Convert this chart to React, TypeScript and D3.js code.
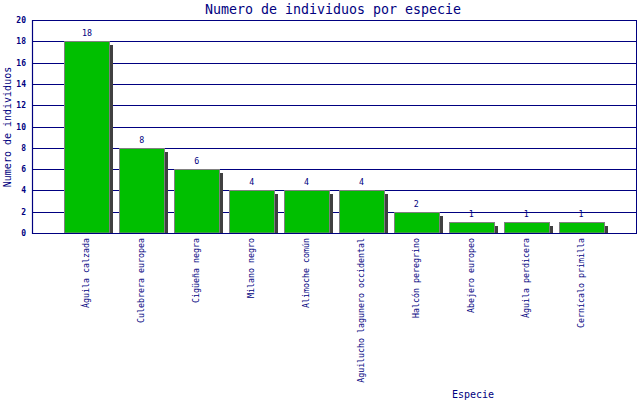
import React from "react";
import * as d3 from "d3";

const categories = [
  "Águila calzada",
  "Culebrera europea",
  "Cigüeña negra",
  "Milano negro",
  "Alimoche común",
  "Aguilucho lagunero occidental",
  "Halcón peregrino",
  "Abejero europeo",
  "Águila perdicera",
  "Cernícalo primilla",
];
const values = [18, 8, 6, 4, 4, 4, 2, 1, 1, 1];
const yTicks = [0, 2, 4, 6, 8, 10, 12, 14, 16, 18, 20];

const W = 640;
const H = 400;
const left = 32;
const right = 636;
const top = 20;
const bottom = 233;
const NAVY = "#000080";
const MONO = "'DejaVu Sans Mono', monospace";

export default function App() {
  const x = d3.scalePoint<string>().domain(categories).range([left, right]).padding(1);
  const step = x.step();
  const bw = step * 0.82;
  const y = d3.scaleLinear().domain([0, 20]).range([bottom, top]);

  return (
    <svg width={W} height={H} style={{ position: "absolute", left: 0, top: 0, background: "#fff" }}>
      <rect x={0} y={0} width={W} height={H} fill="#fff" />
      {yTicks.slice(1).map((t) => (
        <line key={t} x1={left} x2={right} y1={Math.round(y(t)) + 0.5} y2={Math.round(y(t)) + 0.5} stroke={NAVY} strokeWidth={1} />
      ))}
      {categories.map((c, i) => {
        const cx = x(c)!;
        const x0 = Math.round(cx - bw / 2);
        const yt = Math.round(y(values[i]));
        return (
          <g key={c}>
            <rect x={x0 + 4} y={yt + 4} width={Math.round(bw)} height={bottom - yt - 4} fill="#404040" />
            <rect x={x0 + 0.5} y={yt + 0.5} width={Math.round(bw)} height={bottom - yt - 0.5} fill="#00BF00" stroke="#808080" strokeWidth={1} />
            <text x={cx} y={yt - 5} textAnchor="middle" fontFamily={MONO} fontSize={8.3} fill={NAVY}>
              {values[i]}
            </text>
            <text
              transform={`translate(${cx + 2.5},${bottom + 5}) rotate(-90)`}
              textAnchor="end"
              fontFamily={MONO}
              fontSize={8.3}
              fill={NAVY}
            >
              {c}
            </text>
          </g>
        );
      })}
      <line x1={left + 0.5} x2={left + 0.5} y1={top} y2={bottom + 1} stroke={NAVY} strokeWidth={1.2} />
      <line x1={left} x2={right + 1} y1={bottom + 0.5} y2={bottom + 0.5} stroke={NAVY} strokeWidth={1.2} />
      <line x1={right + 0.5} x2={right + 0.5} y1={top} y2={bottom + 1} stroke={NAVY} strokeWidth={1} />
      <line x1={left} x2={right + 1} y1={top + 0.5} y2={top + 0.5} stroke={NAVY} strokeWidth={1} />
      {yTicks.map((t) => (
        <text key={t} x={26} y={y(t) + 3} textAnchor="end" fontFamily={MONO} fontSize={8} fontWeight="bold" fill={NAVY}>
          {t}
        </text>
      ))}
      <text x={333} y={14} textAnchor="middle" fontFamily={MONO} fontSize={13.3} fill={NAVY}>
        Numero de individuos por especie
      </text>
      <text transform={`translate(11,127) rotate(-90)`} textAnchor="middle" fontFamily={MONO} fontSize={10} fill={NAVY}>
        Numero de individuos
      </text>
      <text x={473} y={398} textAnchor="middle" fontFamily={MONO} fontSize={10} fill={NAVY}>
        Especie
      </text>
    </svg>
  );
}
